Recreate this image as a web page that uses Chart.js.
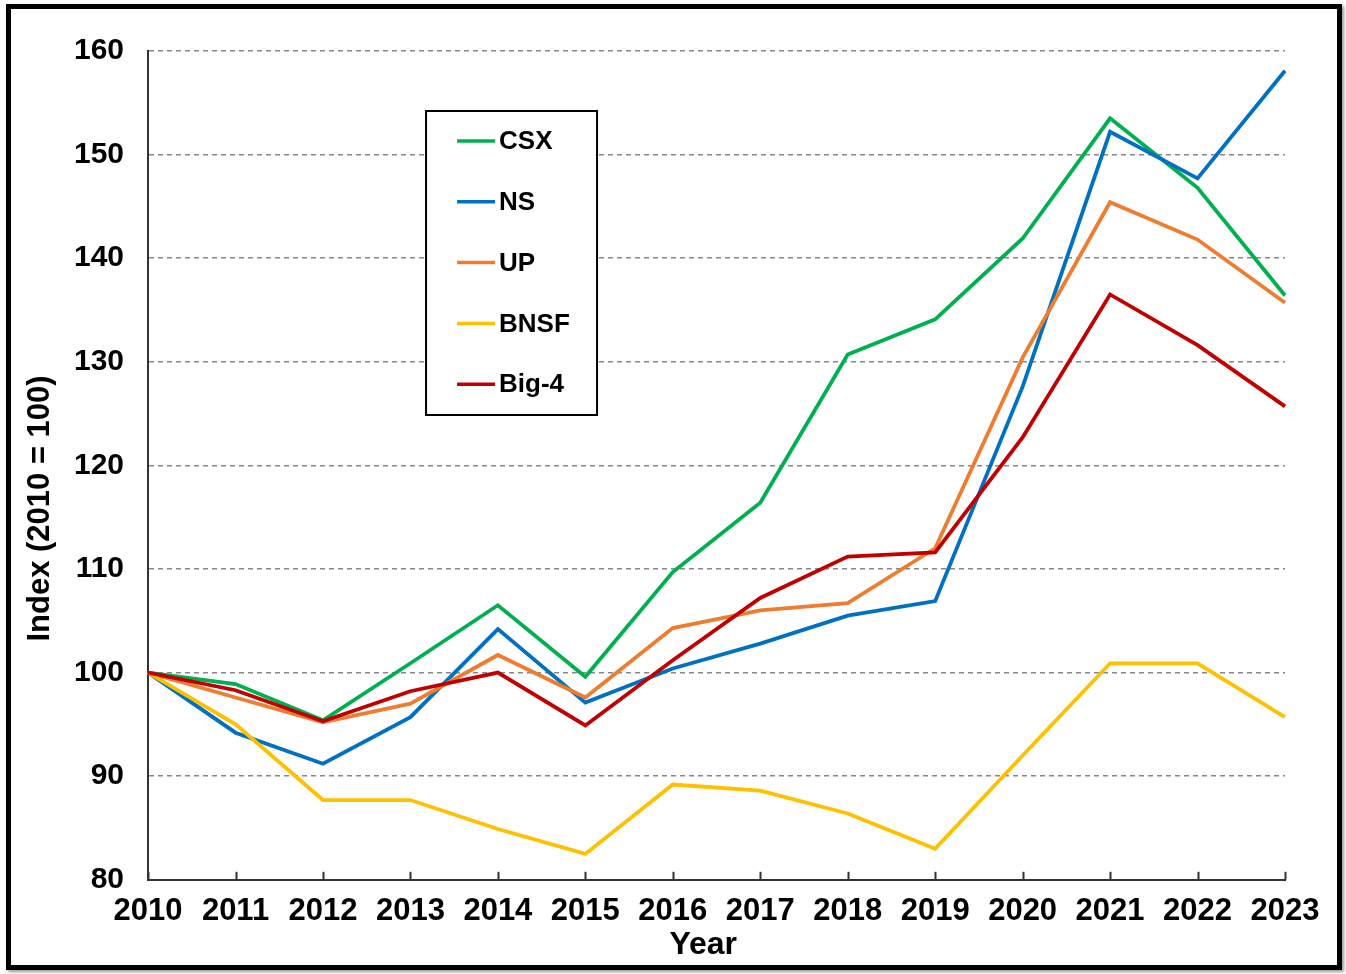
<!DOCTYPE html>
<html>
<head>
<meta charset="utf-8">
<script src="https://cdn.jsdelivr.net/npm/chart.js@4/dist/chart.umd.min.js"></script>
<style>
  html, body { margin: 0; padding: 0; background: #fff; }
  #wrap { position: relative; width: 1346px; height: 974px; }
  #frame {
    position: absolute; left: 6px; top: 4px; width: 1326px; height: 956px;
    border: 5px solid #000; box-shadow: 2px 2px 3px #999; background: #fff;
  }
  #c { position: absolute; left: 0; top: 0; }
</style>
</head>
<body>
<div id="wrap">
  <div id="frame"></div>
  <canvas id="c" width="1346" height="974"></canvas>
</div>
<script>
// years on the x axis
const years = ['2010','2011','2012','2013','2014','2015','2016','2017','2018','2019','2020','2021','2022','2023']

// index values (2010 = 100)
const csx  = [100, 98.9, 95.4, 100.9, 106.5, 99.6, 109.7, 116.4, 130.7, 134.1, 141.9, 153.5, 146.8, 136.4]
const ns   = [100, 94.2, 91.2, 95.7, 104.2, 97.1, 100.4, 102.8, 105.5, 106.9, 127.6, 152.2, 147.7, 158.1]
const up   = [100, 97.6, 95.2, 97.0, 101.7, 97.6, 104.3, 106.0, 106.7, 112.0, 130.4, 145.4, 141.8, 135.7]
const bnsf = [100, 95.0, 87.7, 87.7, 84.9, 82.5, 89.2, 88.6, 86.4, 83.0, 92.0, 100.9, 100.9, 95.7]
const big4 = [100, 98.3, 95.3, 98.2, 100.0, 94.9, 101.2, 107.2, 111.2, 111.6, 122.7, 136.5, 131.6, 125.7]

const seriesNames = ['CSX', 'NS', 'UP', 'BNSF', 'Big-4']
const seriesData = [csx, ns, up, bnsf, big4]
const seriesColors = ['#00B050', '#0070C0', '#ED7D31', '#FFC000', '#C00000']

const FONT = '"Liberation Sans", Arial, Helvetica, sans-serif'

// legend box inside the plot, plus inward x tick marks
const legendBox = {
  id: 'legendBox',
  afterDraw(chart) {
    const ctx = chart.ctx
    const a = chart.chartArea
    const xs = chart.scales.x

    // x tick marks pointing up into the plot
    ctx.save()
    ctx.strokeStyle = '#333'
    ctx.lineWidth = 2
    xs.ticks.forEach((t, i) => {
      const px = Math.round(xs.getPixelForTick(i)) + 0.5
      ctx.beginPath()
      ctx.moveTo(px, a.bottom)
      ctx.lineTo(px, a.bottom - 8)
      ctx.stroke()
    })
    ctx.restore()

    const bx = a.left + 278, by = a.top + 60, bw = 171, bh = 304
    ctx.save()
    ctx.fillStyle = '#fff'
    ctx.fillRect(bx, by, bw, bh)
    ctx.strokeStyle = '#000'
    ctx.lineWidth = 2
    ctx.strokeRect(bx, by, bw, bh)
    ctx.font = 'bold 26px ' + FONT
    ctx.textBaseline = 'middle'
    chart.data.datasets.forEach((ds, i) => {
      const y = by + 30 + i * 60.8
      ctx.strokeStyle = ds.borderColor
      ctx.lineWidth = 3.5
      ctx.beginPath()
      ctx.moveTo(bx + 31, y)
      ctx.lineTo(bx + 69, y)
      ctx.stroke()
      ctx.fillStyle = '#000'
      ctx.fillText(ds.label, bx + 73, y + 1)
    })
    ctx.restore()
  }
}

const datasets = seriesNames.map((name, i) => ({
  label: name,
  data: seriesData[i],
  borderColor: seriesColors[i],
  backgroundColor: seriesColors[i],
  borderWidth: 3.8,
  pointRadius: 0,
  tension: 0,
  order: seriesNames.length - i
}))

new Chart(document.getElementById('c'), {
  type: 'line',
  data: { labels: years, datasets: datasets },
  plugins: [legendBox],
  options: {
    responsive: false,
    animation: false,
    layout: { padding: { left: 22, right: 61, top: 51, bottom: 13 } },
    plugins: {
      legend: { display: false },
      tooltip: { enabled: false }
    },
    scales: {
      x: {
        offset: false,
        grid: { display: false },
        border: { display: true, color: '#333', width: 2 },
        ticks: {
          color: '#000',
          font: { family: FONT, size: 31, weight: 'bold' },
          padding: 5,
          maxRotation: 0,
          autoSkip: false
        },
        title: {
          display: true,
          text: 'Year   ',
          color: '#000',
          font: { family: FONT, size: 32, weight: 'bold', lineHeight: 1.0 },
          padding: { top: -6, bottom: 0 }
        }
      },
      y: {
        min: 80,
        max: 160,
        grid: { color: '#888', lineWidth: 1.5, drawTicks: false },
        border: { display: true, color: '#333', width: 2, dash: [5, 4] },
        ticks: {
          stepSize: 10,
          color: '#000',
          font: { family: FONT, size: 30, weight: 'bold' },
          padding: 24
        },
        title: {
          display: true,
          text: 'Index (2010 = 100)          ',
          color: '#000',
          font: { family: FONT, size: 31, weight: 'bold', lineHeight: 1.0 },
          padding: { top: 3, bottom: -6 }
        }
      }
    }
  }
})
</script>
</body>
</html>
